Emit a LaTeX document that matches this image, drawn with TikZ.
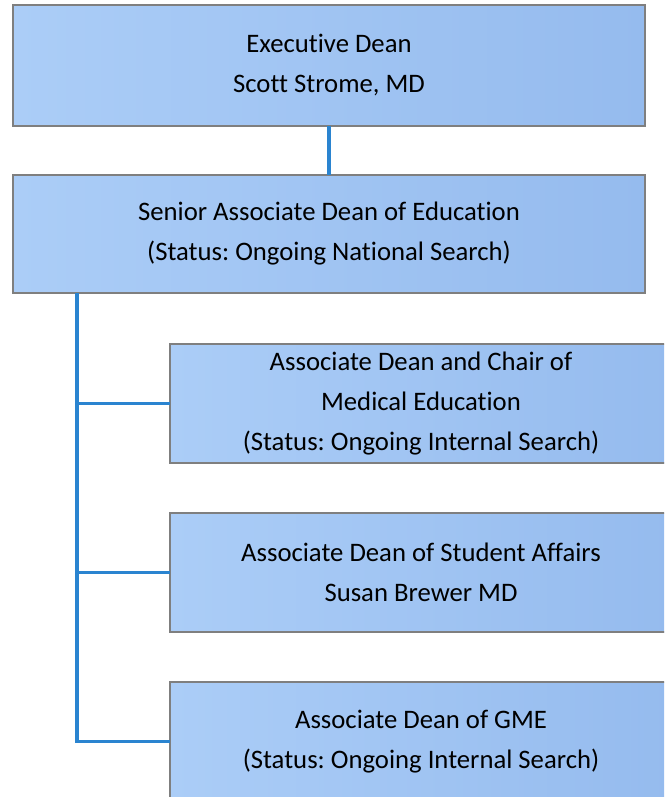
\documentclass[tikz,border=0pt]{standalone}
\usepackage{fontspec}
\setmainfont[Ligatures=NoCommon]{Carlito}
\frenchspacing
\definecolor{boxleft}{HTML}{ABCDF7}
\definecolor{boxright}{HTML}{95BBEE}
\definecolor{boxline}{HTML}{7F7F7F}
\definecolor{linkblue}{HTML}{2A84D0}
\tikzset{every picture/.style={line width=0.75pt}}
\tikzset{
  deanbox/.style={draw=boxline, line width=1.2pt, left color=boxleft, right color=boxright,
    rectangle, outer sep=0pt, inner sep=0pt, align=center,
    font=\fontsize{26.7}{40}\selectfont},
  link/.style={draw=linkblue, line width=3.5pt}
}

\begin{document}
\begin{tikzpicture}[x=1pt,y=1pt,yscale=-1]
  %set diagram frame at 664 x 797
  \clip (0,0) rectangle (664,797);
  \fill[white] (0,0) rectangle (664,797);

  % Shape: Executive Dean
  \node [deanbox, minimum width=632pt, minimum height=121pt] (exec) at (329,65.5) {Executive Dean\\Scott Strome, MD};
  % Shape: Senior Associate Dean
  \node [deanbox, minimum width=632pt, minimum height=118pt] (senior) at (329,234) {Senior Associate Dean of Education\\(Status: Ongoing National Search)};
  % Shape: Medical Education
  \node [deanbox, minimum width=502pt, minimum height=119pt] (meded) at (421,403.5) {Associate Dean and Chair of\\Medical Education\\(Status: Ongoing Internal Search)};
  % Shape: Student Affairs
  \node [deanbox, minimum width=502pt, minimum height=119pt] (student) at (421,572.5) {Associate Dean of Student Affairs\\Susan Brewer MD};
  % Shape: GME
  \node [deanbox, minimum width=502pt, minimum height=119pt] (gme) at (421,741.5) {Associate Dean of GME\\(Status: Ongoing Internal Search)};

  %Straight Lines
  \draw [link] (exec.south) -- (senior.north);
  \coordinate (trunk) at (77,293);
  \draw [link] (trunk) |- (gme.west);
  \draw [link] (trunk |- meded.west) -- (meded.west);
  \draw [link] (trunk |- student.west) -- (student.west);

\end{tikzpicture}
\end{document}
